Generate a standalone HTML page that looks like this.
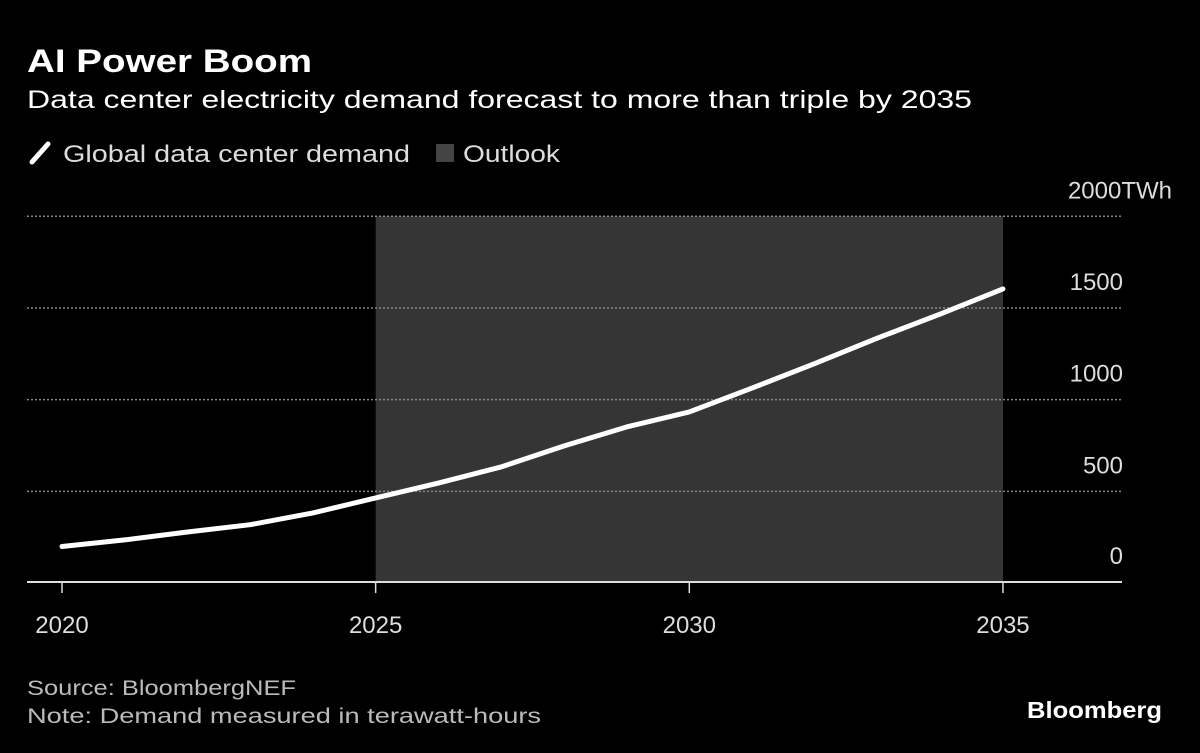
<!DOCTYPE html>
<html><head><meta charset="utf-8"><style>
body{margin:0;background:#000;width:1200px;height:753px;overflow:hidden;font-family:"Liberation Sans",sans-serif;color:#fff}
svg{position:absolute;left:0;top:0}
</style></head><body>
<svg width="1200" height="753">
<text x="27" y="72" font-size="32" font-weight="bold" fill="#fff" textLength="285" lengthAdjust="spacingAndGlyphs">AI Power Boom</text>
<text x="27" y="108" font-size="25" fill="#fff" textLength="945" lengthAdjust="spacingAndGlyphs">Data center electricity demand forecast to more than triple by 2035</text>
<g>
<line x1="32" y1="162" x2="48" y2="144" stroke="#fff" stroke-width="5" stroke-linecap="round"/>
<text x="63" y="162" font-size="24" fill="#ddd" textLength="347" lengthAdjust="spacingAndGlyphs">Global data center demand</text>
<rect x="436" y="144" width="18" height="18" fill="#444"/>
<text x="463" y="162" font-size="24" fill="#ddd" textLength="97" lengthAdjust="spacingAndGlyphs">Outlook</text>
</g>
<g id="plot"></g>
<text x="27" y="695" font-size="21" fill="#bbb" textLength="269" lengthAdjust="spacingAndGlyphs">Source: BloombergNEF</text>
<text x="27" y="723" font-size="21" fill="#bbb" textLength="514" lengthAdjust="spacingAndGlyphs">Note: Demand measured in terawatt-hours</text>
<text x="1027" y="718" font-size="23" font-weight="bold" fill="#fff" textLength="135" lengthAdjust="spacingAndGlyphs">Bloomberg</text>
</svg>
<script>
const years=[2020,2021,2022,2023,2024,2025,2026,2027,2028,2029,2030,2031,2032,2033,2034,2035];
const demand=[199,235,278,318,382,464,545,633,747,851,933,1063,1197,1336,1467,1604];
const yTicks=[0,500,1000,1500,2000];
const xTicks=[2020,2025,2030,2035];
const outlook=[2025,2035];
const NS="http://www.w3.org/2000/svg";
const g=document.getElementById('plot');
const x=v=>62+(v-2020)*62.73;
const y=v=>583-v*0.18335;
function el(t,a){const e=document.createElementNS(NS,t);for(const k in a)e.setAttribute(k,a[k]);g.appendChild(e);return e;}
let r=el('rect',{x:x(outlook[0]),y:y(2000),width:x(outlook[1])-x(outlook[0]),height:y(0)-y(2000),fill:'#353535'});


yTicks.forEach(t=>{
 if(t>0){const l=el('line',{x1:27,x2:1122,y1:y(t),y2:y(t),stroke:'#888','stroke-width':1.5,'stroke-dasharray':'2 2'});
 
 }
 const tx=el('text',{x:1123,y:y(t)-(t===0?19:18),'font-size':24,fill:'#ddd','text-anchor':'end'});
 tx.textContent=t===2000?'2000TWh':String(t);
 if(t===2000){tx.setAttribute('x',1172);}
 
 
});
const ax=el('line',{x1:27,x2:1122,y1:582,y2:582,stroke:'#ddd','stroke-width':2});


xTicks.forEach(t=>{
 const tk=el('line',{x1:x(t),x2:x(t),y1:582,y2:593,stroke:'#ddd','stroke-width':1.5});
 
 
 const tx=el('text',{x:x(t),y:633,'font-size':24,fill:'#ddd','text-anchor':'middle'});
 tx.textContent=t;
 
 
});
const p=el('polyline',{points:years.map((v,i)=>x(v)+','+y(demand[i])).join(' '),fill:'none',stroke:'#fff','stroke-width':5,'stroke-linejoin':'round','stroke-linecap':'round'});


</script>
</body></html>
